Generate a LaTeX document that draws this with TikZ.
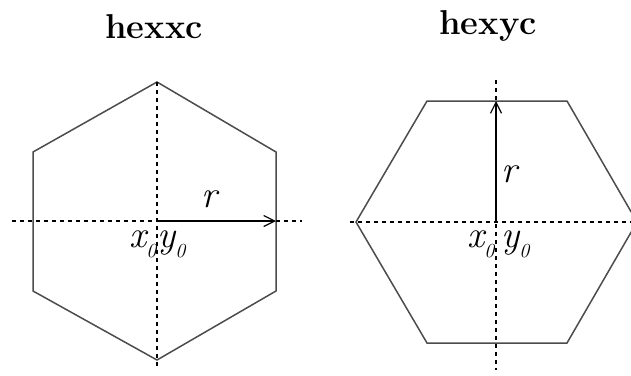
\documentclass[tikz,border=0pt]{standalone}
\usepackage{fontspec}
\usetikzlibrary{arrows.meta}
\newcommand{\sbz}{\raisebox{-10pt}{\fontsize{20}{20}\selectfont 0}}
\begin{document}
\begin{tikzpicture}[x=1pt,y=-1pt,
  hex/.style={draw=black!70, line width=1.5pt, line join=miter},
  axis/.style={draw=black, line width=1.6pt, dash pattern=on 4pt off 4pt},
  radius/.style={draw=black, line width=1.5pt, -{Straight Barb[length=11pt,width=11pt,line width=1.2pt]}},
  ttl/.style={font=\fontsize{34.5}{34.5}\selectfont\bfseries, inner sep=0pt, anchor=base},
  lbl/.style={font=\fontsize{38}{38}\selectfont\itshape, inner sep=0pt, anchor=base west}]
\useasboundingbox (0,0) rectangle (631,375);

% ---------- left: hexxc ----------
\node[ttl] (t1) at (154,38) {hexxc};
\coordinate (c1) at (157,221);
\coordinate (a1) at (157,82);
\coordinate (b1) at (276,152);
\coordinate (d1) at (276,291);
\coordinate (e1) at (157,360);
\coordinate (f1) at (33,291);
\coordinate (g1) at (33,152);
\draw[hex] (a1) -- (b1) -- (d1) -- (e1) -- (f1) -- (g1) -- cycle;
\coordinate (h1l) at (12,221);
\coordinate (h1r) at (302,221);
\coordinate (v1t) at (157,82);
\coordinate (v1b) at (157,368);
\draw[axis] (h1l) -- (h1r);
\draw[axis] (v1t) -- (v1b);
\coordinate (r1) at (276,221);
\draw[radius] (c1) -- (r1);
\node[lbl] (rl1) at (201,207) {r};
\node[lbl] (xy1) at (129,247) {x\sbz\hspace{1pt}y\sbz};

% ---------- right: hexyc ----------
\node[ttl] (t2) at (488,34) {hexyc};
\coordinate (c2) at (496,222);
\coordinate (a2) at (356,222);
\coordinate (b2) at (427,101);
\coordinate (d2) at (567,101);
\coordinate (e2) at (637,222);
\coordinate (f2) at (567,343);
\coordinate (g2) at (427,343);
\draw[hex] (a2) -- (b2) -- (d2) -- (e2) -- (f2) -- (g2) -- cycle;
\coordinate (h2l) at (350,222);
\coordinate (h2r) at (640,222);
\coordinate (v2t) at (496,80);
\coordinate (v2b) at (496,370);
\draw[axis] (h2l) -- (h2r);
\draw[axis] (v2t) -- (v2b);
\coordinate (r2) at (496,101);
\draw[radius] (c2) -- (r2);
\node[lbl] (rl2) at (501,182) {r};
\node[lbl] (xy2) at (467,247) {x\sbz\hspace{7pt}y\sbz};
\end{tikzpicture}
\end{document}
